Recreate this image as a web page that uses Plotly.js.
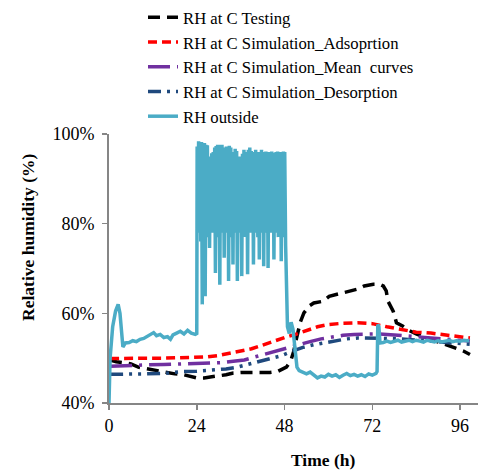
<!DOCTYPE html>
<html>
<head>
<meta charset="utf-8">
<script src="https://cdn.plot.ly/plotly-3.0.1.min.js"></script>
<style>html,body{margin:0;padding:0;background:#fff;}#chart{width:479px;height:472px;}</style>
</head>
<body>
<div id="chart"></div>
<script>
// Series names
const seriesNames = [
  "RH at C Testing",
  "RH at C Simulation_Adsoprtion",
  "RH at C Simulation_Mean  curves",
  "RH at C Simulation_Desorption",
  "RH outside"
];

// RH at C Testing
const testT = [0.3, 2, 4, 6, 8, 10, 12, 14, 16, 18, 20, 22, 24, 26, 28, 30, 32, 34, 36, 40, 44, 46, 47.5, 48.5, 49.7, 50.5, 51.3, 52.3, 53.3, 54.7, 56, 58.5, 60.2, 62.9, 65.3, 68, 69.8, 72.3, 73.9, 75, 75.8, 76.3, 77.7, 78.6, 80.4, 82, 84, 86, 88, 90, 92.3, 94.5, 96.9, 98.7];
const testRH = [49.6, 49.2, 49.0, 48.7, 48.0, 47.7, 47.3, 47.0, 46.7, 46.5, 46.4, 45.9, 45.6, 45.6, 45.8, 46.0, 46.3, 46.7, 46.8, 46.8, 46.8, 47.0, 47.5, 48.0, 49.4, 51.5, 54.5, 58.0, 60.1, 61.6, 62.3, 62.7, 63.8, 64.3, 64.9, 65.4, 66.1, 66.5, 66.5, 66.1, 65.0, 62.7, 60.5, 57.9, 57.1, 56.2, 55.4, 54.8, 54.2, 53.6, 53.1, 52.3, 51.6, 50.8];

// RH at C Simulation_Adsorption
const adsT = [0.3, 5, 10, 15, 20, 24, 27, 30, 33, 36, 39, 42, 45, 48, 51, 54, 57, 60, 64, 68, 72, 76, 80, 84, 88, 92, 96, 98.7];
const adsRH = [49.9, 50.0, 50.0, 50.0, 50.1, 50.1, 50.3, 50.6, 51.1, 51.5, 52.1, 52.9, 53.8, 54.6, 55.3, 56.2, 57.0, 57.5, 57.8, 57.9, 57.7, 57.0, 56.4, 55.8, 55.6, 55.2, 54.8, 54.5];

// RH at C Simulation_Mean curves
const meanT = [0.3, 5, 10, 15, 20, 25, 28, 31, 34, 37, 40, 43, 46, 49, 52, 55, 58, 61, 64, 67, 70, 73, 76, 80, 84, 88, 92, 96, 98.7];
const meanRH = [48.2, 48.4, 48.5, 48.6, 48.7, 48.7, 48.8, 49.0, 49.3, 49.6, 50.3, 51.0, 51.7, 52.4, 53.0, 53.7, 54.3, 54.8, 55.1, 55.3, 55.4, 55.4, 55.3, 55.1, 54.8, 54.5, 54.2, 54.0, 53.8];

// RH at C Simulation_Desorption
const desT = [0.3, 5, 10, 15, 20, 24, 28, 32, 35, 38, 41, 44, 47, 50, 53, 56, 59, 62, 65, 68, 72, 76, 80, 84, 88, 92, 96, 98.7];
const desRH = [46.4, 46.4, 46.5, 46.6, 47.0, 47.1, 47.3, 47.6, 48.0, 48.6, 49.3, 49.8, 50.5, 51.5, 52.4, 53.0, 53.4, 53.9, 54.3, 54.5, 54.5, 54.4, 54.3, 54.1, 53.8, 53.5, 53.2, 53.1];

// RH outside
const outT = [0, 0.3, 1, 1.8, 2.5, 3.0, 3.8, 4.5, 5.5, 6.5, 7.5, 8.5, 9.5, 10.5, 11.5, 12.2, 13, 14, 15, 16, 16.8, 17.5, 18.5, 19.5, 20.5, 21.5, 22.5, 23.6, 24.0,
  24.1, 24.3, 24.5, 24.7, 24.9, 25.1, 25.3, 25.5, 25.7, 25.9, 26.1, 26.3, 26.5, 26.7, 26.9, 27.1, 27.3, 27.5, 27.7, 27.9,
  28.1, 28.3, 28.5, 28.7, 28.9, 29.1, 29.3, 29.5, 29.7, 29.9, 30.1, 30.3, 30.5, 30.7, 30.9, 31.1, 31.3, 31.5, 31.7, 31.9,
  32.1, 32.3, 32.5, 32.7, 32.9, 33.1, 33.3, 33.5, 33.7, 33.9, 34.1, 34.3, 34.5, 34.7, 34.9, 35.1, 35.3, 35.5, 35.7, 35.9,
  36.1, 36.3, 36.5, 36.7, 36.9, 37.1, 37.3, 37.5, 37.7, 37.9, 38.1, 38.3, 38.5, 38.7, 38.9, 39.1, 39.3, 39.5, 39.7, 39.9,
  40.1, 40.3, 40.5, 40.7, 40.9, 41.1, 41.3, 41.5, 41.7, 41.9, 42.1, 42.3, 42.5, 42.7, 42.9, 43.1, 43.3, 43.5, 43.7, 43.9,
  44.1, 44.3, 44.5, 44.7, 44.9, 45.1, 45.3, 45.5, 45.7, 45.9, 46.1, 46.3, 46.5, 46.7, 46.9, 47.1, 47.3, 47.5, 47.7, 47.9, 48.05,
  48.3, 48.8, 49.3, 49.8, 50.3, 50.8, 51.4, 52, 53, 54, 55, 56, 57, 58, 59, 60, 61, 62, 63, 64, 65, 66, 67, 68, 69, 70, 71, 72, 73, 73.3, 73.5, 73.8, 74.1,
  75, 76, 77, 78, 79, 80, 81, 82, 83, 84, 85, 86, 87, 88, 89, 90, 91, 92, 93, 94, 95, 96, 97, 98, 98.5];
const outRH = [40, 50, 57, 60.5, 62, 60, 52.5, 53.4, 53.5, 53.9, 53.7, 54.2, 54.4, 54.9, 55.2, 55.7, 55.0, 55.3, 54.6, 54.8, 54.2, 55.2, 55.6, 56.0, 55.4, 56.2, 55.6, 55.3, 55.5,
  97.2, 80, 98.4, 78, 98.0, 76, 98.2, 62.0, 97.8, 78, 98.0, 63.8, 97.6, 79, 97.5, 77, 93.5, 74.6, 95.0, 80,
  95.7, 78, 96.0, 79, 97.0, 69.0, 97.3, 79, 97.6, 77, 97.6, 66.4, 97.2, 80, 97.6, 78, 97.0, 72.4, 96.5, 79,
  97.2, 78, 96.8, 67.2, 97.4, 80, 97.0, 77, 96.0, 70.9, 94.5, 79, 96.7, 78, 96.2, 67.2, 95.0, 80, 94.8, 78,
  95.0, 68.3, 95.6, 79, 96.5, 77, 96.0, 79, 95.5, 68.7, 96.5, 80, 97.0, 78, 96.2, 79, 96.0, 70.9, 95.5, 78,
  96.5, 79, 96.0, 77, 95.5, 72.0, 96.0, 79, 96.5, 78, 96.0, 70.5, 95.2, 79, 96.1, 78, 96.0, 70.1, 95.5, 80,
  96.0, 78, 96.1, 79, 95.8, 72.0, 95.5, 78, 96.0, 79, 96.1, 77, 95.8, 80, 96.0, 71.6, 96.0, 78, 96.1, 77, 96.0,
  75, 57.0, 55.5, 58.0, 56.5, 52.0, 48.0, 47.2, 46.8, 46.5, 46.9, 46.2, 45.6, 46.0, 45.8, 46.4, 46.0, 46.3, 45.7, 46.2, 46.6, 46.1, 46.4, 46.0, 46.3, 45.9, 46.5, 46.2, 46.6, 47.0, 57.5, 57.0, 53.4,
  53.5, 53.8, 53.5, 53.7, 54.0, 53.6, 53.8, 54.0, 53.7, 54.0, 53.8, 53.6, 54.0, 53.8, 53.6, 53.9, 53.6, 53.8, 54.0, 53.7, 53.9, 53.8, 54.0, 53.9, 54.0];

const xTicks = [0, 24, 48, 72, 96];
const yTicks = [40, 60, 80, 100];
const yTickLabels = ["40%", "60%", "80%", "100%"];

const serif = "'Liberation Serif', 'Times New Roman', Times, serif";

const traces = [
  {x: testT, y: testRH, name: seriesNames[0], mode: "lines",
   line: {color: "#000000", width: 3.5, dash: "12px,7px"}},
  {x: adsT, y: adsRH, name: seriesNames[1], mode: "lines",
   line: {color: "#FF0000", width: 3.5, dash: "9px,5px"}},
  {x: meanT, y: meanRH, name: seriesNames[2], mode: "lines",
   line: {color: "#7030A0", width: 3.5, dash: "22px,7px,3px,7px"}},
  {x: desT, y: desRH, name: seriesNames[3], mode: "lines",
   line: {color: "#1F497D", width: 3.5, dash: "13px,6px,3px,6px,3px,6px"}},
  {x: outT, y: outRH, name: seriesNames[4], mode: "lines",
   line: {color: "#4BACC6", width: 3.5}}
];

const layout = {
  width: 479, height: 472,
  margin: {l: 109, r: 1, t: 133, b: 69},
  paper_bgcolor: "#ffffff", plot_bgcolor: "#ffffff",
  font: {family: serif, size: 18, color: "#000000"},
  showlegend: true,
  legend: {x: (143 - 109) / 369, xanchor: "left", y: (402 + 2) / 270, yanchor: "top",
           bgcolor: "rgba(0,0,0,0)", font: {family: serif, size: 16.7, color: "#000"},
           itemwidth: 30},
  xaxis: {range: [0, 100.9], tickvals: xTicks, ticktext: xTicks.map(String),
          showgrid: false, zeroline: false, showline: true, linecolor: "#868686", linewidth: 2,
          ticks: "outside", ticklen: 5, tickwidth: 1.5, tickcolor: "#868686",
          tickfont: {family: serif, size: 18, color: "#000"}, fixedrange: true},
  yaxis: {range: [40, 100], tickvals: yTicks, ticktext: yTickLabels,
          showgrid: false, zeroline: false, showline: true, linecolor: "#868686", linewidth: 2,
          ticks: "outside", ticklen: 5, tickwidth: 1.5, tickcolor: "#868686",
          ticklabelstandoff: 4,
          tickfont: {family: serif, size: 18, color: "#000"}, fixedrange: true},
  annotations: [
    {text: "<b>Time (h)</b>", xref: "paper", yref: "paper",
     x: (323 - 109) / 369, y: (402.7 - 460) / 270, xanchor: "center", yanchor: "middle",
     showarrow: false, font: {family: serif, size: 17.5, color: "#000"}},
    {text: "<b>Relative humidity (%)</b>", xref: "paper", yref: "paper",
     x: (28 - 109) / 369, y: (402.7 - 237) / 270, xanchor: "center", yanchor: "middle",
     textangle: -90, showarrow: false, font: {family: serif, size: 17.5, color: "#000"}}
  ]
};

Plotly.newPlot("chart", traces, layout, {displayModeBar: false, staticPlot: true});
</script>
</body>
</html>
